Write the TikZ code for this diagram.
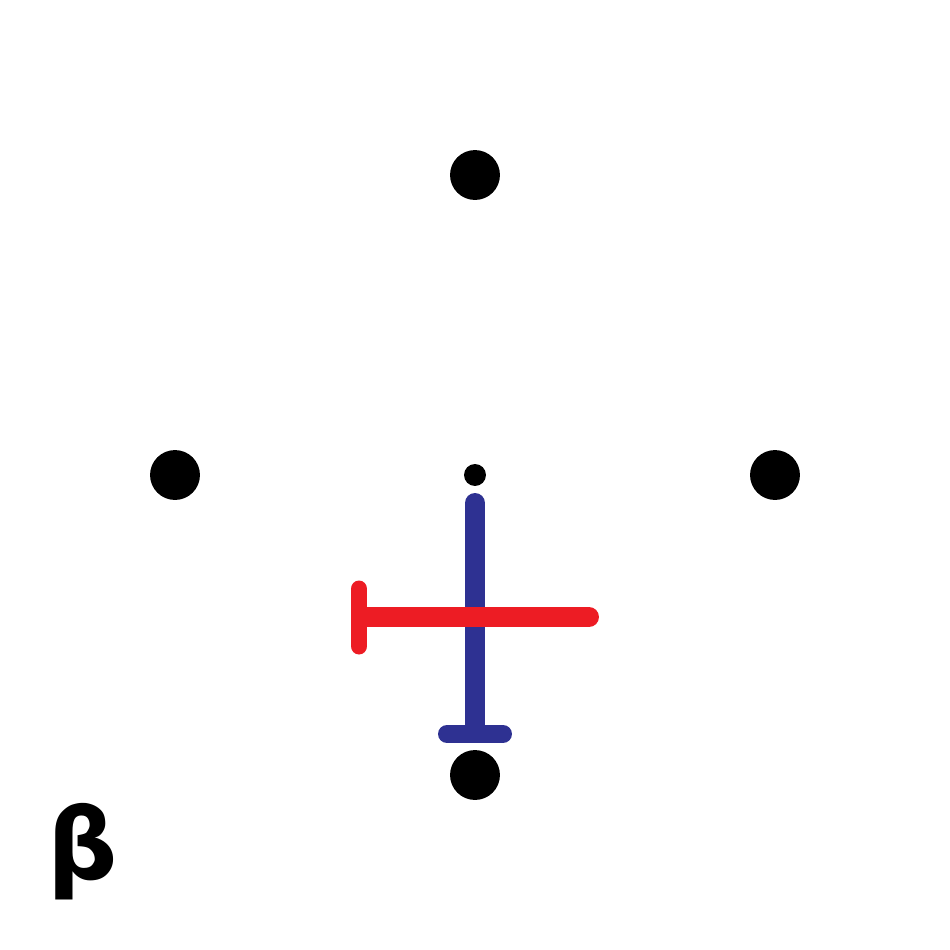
\documentclass[tikz,border=0pt]{standalone}
\usepackage{fontspec}
\setmainfont{DejaVu Sans}
\usetikzlibrary{arrows.meta}
\definecolor{myblue}{HTML}{2E3192}
\definecolor{myred}{HTML}{ED1C24}
\begin{document}
\begin{tikzpicture}[x=0.01cm,y=-0.01cm,
  bigdot/.style={circle,fill=black,minimum size=50*0.2839pt,inner sep=0pt},
  smalldot/.style={circle,fill=black,minimum size=22*0.2839pt,inner sep=0pt},
  bluebar/.style={draw=myblue,line width=20*0.2839pt,line cap=butt},
  bluetee/.style={draw=myblue,line width=18*0.2839pt,line cap=round},
  redbar/.style={draw=myred,line width=20*0.2839pt,line cap=butt},
  redtee/.style={draw=myred,line width=17*0.2839pt,line cap=round}]
\useasboundingbox[fill=white] (0,0) rectangle (950,950);
\node[bigdot] (top) at (475,175) {};
\node[bigdot] (left) at (175,475) {};
\node[bigdot] (right) at (775,475) {};
\node[bigdot] (bottom) at (475,775) {};
\node[smalldot] (center) at (475,475) {};
\coordinate (b1) at (475,493);
\coordinate (b2) at (475,734);
\coordinate (bt1) at (447,734);
\coordinate (bt2) at (503,734);
\coordinate (r1) at (359,617);
\coordinate (r2) at (599,617);
\coordinate (rt1) at (359,589);
\coordinate (rt2) at (359,646);
\draw[bluebar,{Round Cap[]}-] (b1) -- (b2);
\draw[bluetee] (bt1) -- (bt2);
\draw[redbar,-{Round Cap[]}] (r1) -- (r2);
\draw[redtee] (rt1) -- (rt2);
\node[inner sep=0pt,font=\bfseries\fontsize{28}{30}\selectfont] (beta) at (83,852) {β};
\end{tikzpicture}
\end{document}
